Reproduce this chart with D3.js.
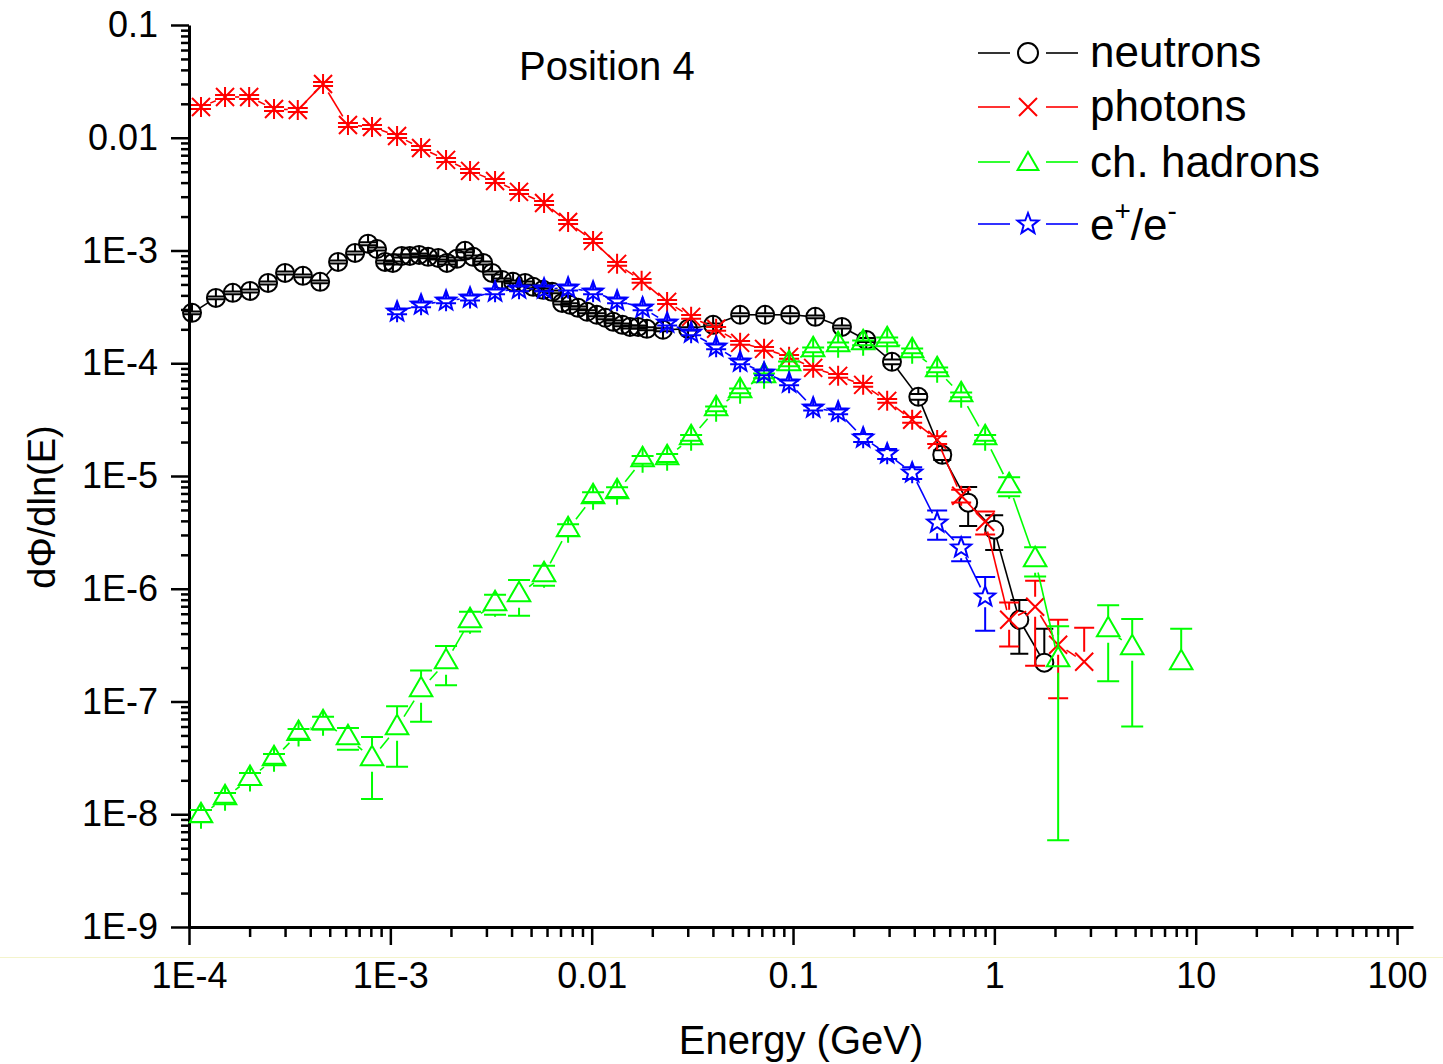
<!DOCTYPE html>
<html>
<head>
<meta charset="utf-8">
<script src="https://cdn.jsdelivr.net/npm/d3@7"></script>
<style>
  body { margin: 0; background: #fff; }
  svg { display: block; }
  text { font-family: "Liberation Sans", Arial, sans-serif; fill: #000; }
</style>
</head>
<body>
<div id="chart"></div>
<script>
// Values (energy in GeV, flux, relative error)
const neutronEnergy = [1.035e-4, 1.36e-4, 1.65e-4, 2.01e-4, 2.47e-4, 3.0e-4, 3.68e-4, 4.48e-4, 5.5e-4, 6.68e-4,
  7.75e-4, 8.59e-4, 9.41e-4, 1.03e-3, 1.14e-3, 1.25e-3, 1.39e-3, 1.54e-3, 1.73e-3, 1.91e-3,
  2.14e-3, 2.35e-3, 2.58e-3, 2.89e-3, 3.2e-3, 3.59e-3, 4.07e-3, 4.67e-3, 5.12e-3, 5.74e-3,
  6.36e-3, 7.13e-3, 7.81e-3, 8.56e-3, 9.49e-3, 1.06e-2, 1.17e-2, 1.28e-2, 1.42e-2, 1.55e-2,
  1.7e-2, 1.88e-2, 2.26e-2, 3.01e-2, 4.01e-2, 5.46e-2, 7.27e-2, 9.68e-2, 0.129, 0.175,
  0.231, 0.31, 0.419, 0.551, 0.741, 0.998, 1.33, 1.77];
const neutronFlux = [2.8e-4, 3.8e-4, 4.21e-4, 4.38e-4, 5.16e-4, 6.33e-4, 5.96e-4, 5.27e-4, 7.92e-4, 9.52e-4,
  1.15e-3, 1.03e-3, 7.92e-4, 7.76e-4, 8.95e-4, 8.95e-4, 9.14e-4, 8.78e-4, 8.6e-4, 7.76e-4,
  8.43e-4, 9.93e-4, 8.78e-4, 7.76e-4, 6.33e-4, 5.48e-4, 5.27e-4, 5.16e-4, 4.76e-4, 4.48e-4,
  4.3e-4, 3.43e-4, 3.3e-4, 3.1e-4, 2.86e-4, 2.69e-4, 2.53e-4, 2.33e-4, 2.19e-4, 2.1e-4,
  2.1e-4, 2.02e-4, 1.98e-4, 2.02e-4, 2.19e-4, 2.69e-4, 2.69e-4, 2.69e-4, 2.58e-4, 2.1e-4,
  1.61e-4, 1.03e-4, 5.04e-5, 1.54e-5, 5.8e-6, 3.34e-6, 5.31e-7, 2.21e-7];
const neutronErr = [0.03, 0.03, 0.03, 0.03, 0.03, 0.03, 0.03, 0.03, 0.03, 0.03,
  0.03, 0.03, 0.03, 0.03, 0.03, 0.03, 0.03, 0.03, 0.03, 0.03,
  0.03, 0.03, 0.03, 0.03, 0.03, 0.03, 0.03, 0.03, 0.03, 0.03,
  0.03, 0.03, 0.03, 0.03, 0.03, 0.03, 0.03, 0.03, 0.03, 0.03,
  0.03, 0.03, 0.03, 0.03, 0.03, 0.03, 0.03, 0.03, 0.03, 0.03,
  0.04, 0.05, 0.06, 0.1, 0.38, 0.34, 0.5, 1.0];

const photonEnergy = [1.147e-4, 1.51e-4, 1.99e-4, 2.644e-4, 3.47e-4, 4.632e-4, 6.16e-4, 8.11e-4, 1.08e-3, 1.421e-3,
  1.891e-3, 2.488e-3, 3.312e-3, 4.357e-3, 5.8e-3, 7.635e-3, 1.016e-2, 1.337e-2, 1.77e-2, 2.369e-2,
  3.118e-2, 4.15e-2, 5.46e-2, 7.18e-2, 9.56e-2, 0.1259, 0.1675, 0.223, 0.2935, 0.3906,
  0.5198, 0.6841, 0.9, 1.184, 1.594, 2.074, 2.793];
const photonFlux = [0.01875, 0.023, 0.023, 0.018, 0.01764, 0.03, 0.01299, 0.01246, 0.01038, 8.12e-3,
  6.36e-3, 5.08e-3, 4.14e-3, 3.31e-3, 2.64e-3, 1.79e-3, 1.217e-3, 7.61e-4, 5.38e-4, 3.5e-4,
  2.58e-4, 2.02e-4, 1.517e-4, 1.342e-4, 1.14e-4, 9.1e-5, 7.73e-5, 6.43e-5, 4.64e-5, 3.15e-5,
  2.09e-5, 6.68e-6, 3.93e-6, 5.31e-7, 6.93e-7, 3.19e-7, 2.25e-7];
const photonErr = [0.04, 0.04, 0.04, 0.04, 0.04, 0.04, 0.04, 0.04, 0.04, 0.04,
  0.04, 0.04, 0.04, 0.04, 0.04, 0.04, 0.04, 0.04, 0.04, 0.04,
  0.04, 0.04, 0.04, 0.04, 0.04, 0.04, 0.04, 0.04, 0.04, 0.06,
  0.08, 0.13, 0.23, 0.42, 0.7, 0.665, 1.0];

const hadronEnergy = [1.147e-4, 1.51e-4, 2.009e-4, 2.644e-4, 3.5e-4, 4.632e-4, 6.16e-4, 8.11e-4, 1.08e-3, 1.421e-3,
  1.891e-3, 2.488e-3, 3.312e-3, 4.357e-3, 5.8e-3, 7.635e-3, 1.016e-2, 1.337e-2, 1.79e-2, 2.37e-2,
  3.118e-2, 4.15e-2, 5.46e-2, 7.18e-2, 9.56e-2, 0.1259, 0.1675, 0.223, 0.2935, 0.3906,
  0.5198, 0.6841, 0.9, 1.184, 1.594, 2.074, 2.793, 3.675, 4.837, 6.4, 8.47];
const hadronFlux = [9.72e-9, 1.403e-8, 2.07e-8, 3.11e-8, 5.19e-8, 6.49e-8, 4.78e-8, 3.11e-8, 5.86e-8, 1.273e-7,
  2.25e-7, 5.21e-7, 7.36e-7, 8.85e-7, 1.33e-6, 3.34e-6, 6.54e-6, 7.24e-6, 1.393e-5, 1.45e-5,
  2.18e-5, 3.94e-5, 5.69e-5, 7.73e-5, 9.88e-5, 1.315e-4, 1.456e-4, 1.517e-4, 1.612e-4, 1.288e-4,
  8.74e-5, 5.25e-5, 2.18e-5, 8.18e-6, 1.807e-6, 2.35e-7, null, 4.33e-7, 3.0e-7, null, 2.21e-7];
const hadronErr = [0.12, 0.1, 0.12, 0.1, 0.1, 0.13, 0.22, 0.56, 0.55, 0.48,
  0.38, 0.2, 0.2, 0.35, 0.2, 0.12, 0.1, 0.1, 0.08, 0.08,
  0.06, 0.05, 0.05, 0.05, 0.05, 0.05, 0.05, 0.05, 0.05, 0.05,
  0.05, 0.05, 0.06, 0.19, 0.29, 0.975, null, 0.65, 0.8, null, 1.0];

const electronEnergy = [1.08e-3, 1.421e-3, 1.891e-3, 2.488e-3, 3.312e-3, 4.357e-3, 5.8e-3, 7.635e-3, 1.016e-2, 1.337e-2,
  1.79e-2, 2.37e-2, 3.118e-2, 4.15e-2, 5.46e-2, 7.18e-2, 9.56e-2, 0.1259, 0.1675, 0.223,
  0.2935, 0.3906, 0.5198, 0.6841, 0.9];
const electronFlux = [2.86e-4, 3.3e-4, 3.58e-4, 3.8e-4, 4.3e-4, 4.57e-4, 4.57e-4, 4.66e-4, 4.3e-4, 3.58e-4,
  3.1e-4, 2.28e-4, 1.86e-4, 1.398e-4, 1.029e-4, 8.22e-5, 6.7e-5, 4.02e-5, 3.71e-5, 2.18e-5,
  1.574e-5, 1.068e-5, 3.84e-6, 2.31e-6, 8.49e-7];
const electronErr = [0.05, 0.05, 0.05, 0.05, 0.05, 0.05, 0.05, 0.05, 0.05, 0.05,
  0.05, 0.05, 0.05, 0.05, 0.05, 0.05, 0.05, 0.05, 0.05, 0.08,
  0.1, 0.12, 0.29, 0.24, 0.5];

const xTickValues = [1e-4, 1e-3, 1e-2, 1e-1, 1, 10, 100];
const xTickLabels = ["1E-4", "1E-3", "0.01", "0.1", "1", "10", "100"];
const yTickValues = [1e-9, 1e-8, 1e-7, 1e-6, 1e-5, 1e-4, 1e-3, 1e-2, 1e-1];
const yTickLabels = ["1E-9", "1E-8", "1E-7", "1E-6", "1E-5", "1E-4", "1E-3", "0.01", "0.1"];

const series = [
  { name: "neutrons", energy: neutronEnergy, flux: neutronFlux, err: neutronErr, color: "#000000", shape: "circle", r: 9, cap: 9 },
  { name: "photons", energy: photonEnergy, flux: photonFlux, err: photonErr, color: "#ff0000", shape: "cross", r: 10, cap: 10 },
  { name: "ch. hadrons", energy: hadronEnergy, flux: hadronFlux, err: hadronErr, color: "#00ff00", shape: "triangle", r: 13, cap: 11 },
  { name: "e+/e-", energy: electronEnergy, flux: electronFlux, err: electronErr, color: "#0000ff", shape: "star", r: 10.5, cap: 10 }
];

const width = 1443, height = 1064;

const x = d3.scaleLog().domain([1e-4, 120]).range([189, 1413]);
const y = d3.scaleLog().domain([1e-9, 0.1]).range([927, 25]);

const svg = d3.create("svg")
  .attr("width", width)
  .attr("height", height)
  .attr("viewBox", [0, 0, width, height]);

svg.append("rect").attr("width", width).attr("height", height).attr("fill", "#fff");

// faint line under the axis, as in the source image
svg.append("line")
  .attr("x1", 0).attr("x2", width)
  .attr("y1", 957.5).attr("y2", 957.5)
  .attr("stroke", "#f4f4cc").attr("stroke-width", 1);

// marker shapes
function markerPath(shape, r) {
  if (shape === "cross") {
    const s = r * 0.9;
    return `M${-s},${-s}L${s},${s}M${-s},${s}L${s},${-s}`;
  }
  if (shape === "triangle") {
    const h = r * Math.sqrt(3) / 2;
    return `M0,${-r}L${h},${r / 2}L${-h},${r / 2}Z`;
  }
  if (shape === "star") {
    const pts = [];
    for (let i = 0; i < 10; i++) {
      const rr = i % 2 === 0 ? r : r * 0.42;
      const a = -Math.PI / 2 + i * Math.PI / 5;
      pts.push([rr * Math.cos(a), rr * Math.sin(a)]);
    }
    return "M" + pts.map((p) => p.join(",")).join("L") + "Z";
  }
  return d3.arc()({ innerRadius: 0, outerRadius: r, startAngle: 0, endAngle: 2 * Math.PI }); // circle
}

// axes
const minorX = x.ticks().filter((d) => !xTickValues.some((t) => Math.abs(t - d) / t < 1e-6));
const minorY = y.ticks().filter((d) => !yTickValues.some((t) => Math.abs(t - d) / t < 1e-6));

const gx = svg.append("g").attr("transform", "translate(0,927)");
gx.append("g")
  .call(d3.axisBottom(x).tickValues(minorX).tickSize(10).tickFormat(""))
  .call((g) => g.select(".domain").remove());
gx.append("g")
  .call(d3.axisBottom(x).tickValues(xTickValues).tickFormat((d, i) => xTickLabels[i])
    .tickSize(18).tickPadding(17).tickSizeOuter(0));
gx.selectAll("line").attr("stroke-width", 2.5);
gx.select(".domain").attr("stroke-width", 3);
gx.selectAll("text").attr("font-size", 36).attr("font-family", "Liberation Sans, Arial, sans-serif");

const gy = svg.append("g").attr("transform", "translate(189,0)");
gy.append("g")
  .call(d3.axisLeft(y).tickValues(minorY).tickSize(8).tickFormat(""))
  .call((g) => g.select(".domain").remove());
gy.append("g")
  .call(d3.axisLeft(y).tickValues(yTickValues).tickFormat((d, i) => yTickLabels[i])
    .tickSize(18).tickPadding(13).tickSizeOuter(0));
gy.selectAll("line").attr("stroke-width", 2.5);
gy.select(".domain").attr("stroke-width", 3);
gy.selectAll("text").attr("font-size", 36).attr("font-family", "Liberation Sans, Arial, sans-serif");

// data series
series.forEach((s) => {
  const pts = s.energy.map((e, i) => ({ e, v: s.flux[i], err: s.err[i] }));
  const g = svg.append("g").attr("stroke", s.color).attr("fill", "none");

  // connecting lines, broken around markers and at empty bins
  for (let i = 0; i < pts.length - 1; i++) {
    const a = pts[i], b = pts[i + 1];
    if (a.v == null || b.v == null) continue;
    const x1 = x(a.e), y1 = y(a.v), x2 = x(b.e), y2 = y(b.v);
    const len = Math.hypot(x2 - x1, y2 - y1);
    if (len <= 2 * s.r) continue;
    const ux = (x2 - x1) / len, uy = (y2 - y1) / len;
    g.append("line")
      .attr("x1", x1 + ux * s.r).attr("y1", y1 + uy * s.r)
      .attr("x2", x2 - ux * s.r).attr("y2", y2 - uy * s.r)
      .attr("stroke-width", 1.6);
  }

  // error bars: from cap to marker edge
  pts.filter((p) => p.v != null).forEach((p) => {
    const cx = x(p.e), cy = y(p.v);
    const yHi = y(p.v * (1 + p.err));
    g.append("path")
      .attr("d", `M${cx},${yHi}V${cy - s.r}M${cx - s.cap},${yHi}H${cx + s.cap}`)
      .attr("stroke-width", 2);
    const lo = p.v * (1 - p.err);
    if (lo > 0) {
      const yLo = y(lo);
      g.append("path")
        .attr("d", `M${cx},${yLo}V${cy + s.r}M${cx - s.cap},${yLo}H${cx + s.cap}`)
        .attr("stroke-width", 2);
    }
  });

  // markers
  g.selectAll(".marker")
    .data(pts.filter((p) => p.v != null))
    .enter()
    .append("path")
    .attr("class", "marker")
    .attr("d", markerPath(s.shape, s.r))
    .attr("transform", (p) => `translate(${x(p.e)},${y(p.v)})`)
    .attr("stroke-width", 2);
});

// annotation
svg.append("text")
  .attr("x", 519).attr("y", 80)
  .attr("font-size", 40)
  .text("Position 4");

// legend
const legendRows = [53, 107, 162, 224];
const legendBase = [67, 121, 177, 240];
series.forEach((s, i) => {
  const ly = legendRows[i];
  const g = svg.append("g").attr("stroke", s.color).attr("fill", "none");
  g.append("line").attr("x1", 978).attr("x2", 1010).attr("y1", ly).attr("y2", ly).attr("stroke-width", 1.6);
  g.append("line").attr("x1", 1046).attr("x2", 1078).attr("y1", ly).attr("y2", ly).attr("stroke-width", 1.6);
  const lr = s.shape === "triangle" ? 12 : s.shape === "star" ? 11 : 10;
  g.append("path")
    .attr("d", markerPath(s.shape, lr))
    .attr("transform", `translate(1028,${s.shape === "triangle" ? ly + 2 : ly})`)
    .attr("stroke-width", 2);

  const t = svg.append("text").attr("x", 1090).attr("y", legendBase[i]).attr("font-size", 44);
  if (s.name === "e+/e-") {
    t.append("tspan").text("e");
    t.append("tspan").attr("font-size", 28).attr("dy", -20).text("+");
    t.append("tspan").attr("dy", 20).text("/e");
    t.append("tspan").attr("font-size", 28).attr("dy", -20).text("-");
  } else {
    t.text(s.name);
  }
});

// axis titles
svg.append("text")
  .attr("x", 801).attr("y", 1054)
  .attr("text-anchor", "middle")
  .attr("font-size", 40)
  .text("Energy (GeV)");

svg.append("text")
  .attr("transform", "translate(55,507) rotate(-90)")
  .attr("text-anchor", "middle")
  .attr("font-size", 38)
  .text("dΦ/dln(E)");

document.getElementById("chart").appendChild(svg.node());
</script>
</body>
</html>
